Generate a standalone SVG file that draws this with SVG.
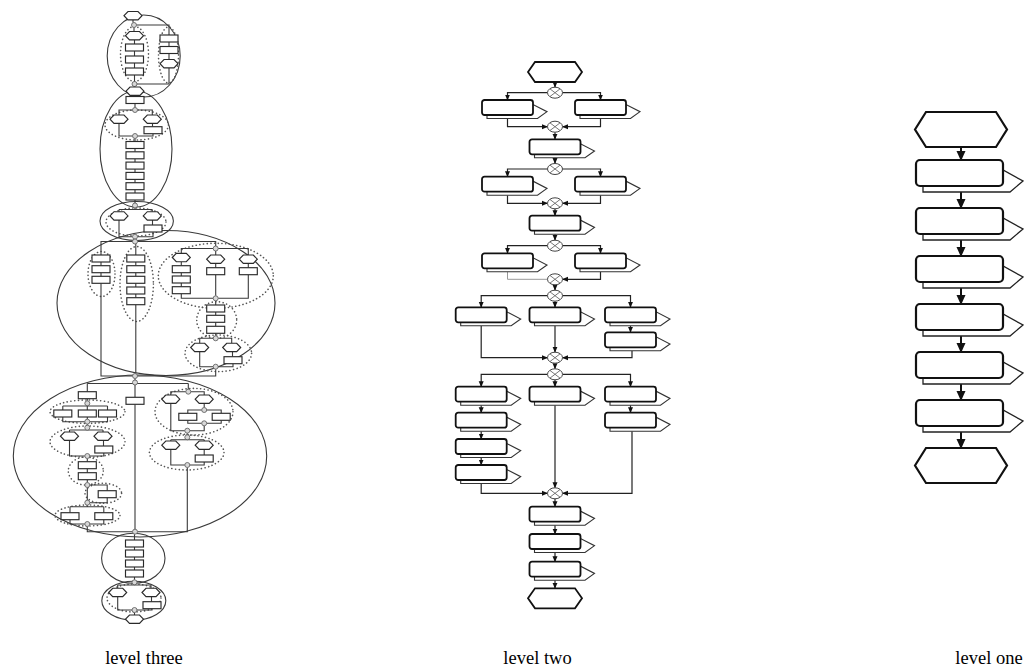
<svg xmlns="http://www.w3.org/2000/svg" width="1024" height="672" viewBox="0 0 1024 672">
<style>
.e3{fill:none;stroke:#3a3a3a;stroke-width:1.1}
.d3{fill:none;stroke:#555;stroke-width:1.6;stroke-dasharray:0.1 3.6;stroke-linecap:round}
.n3{fill:#fff;stroke:#2a2a2a;stroke-width:1.15}
.c3{fill:none;stroke:#3a3a3a;stroke-width:1.1}
.g3{fill:#d8d8d8;stroke:#555;stroke-width:0.8}
.n2{fill:#fff;stroke:#111;stroke-width:1.8}
.s2{fill:#fff;stroke:#333;stroke-width:1.1}
.c2{fill:none;stroke:#222;stroke-width:1.2}
.c2g{fill:none;stroke:#999;stroke-width:1}
.gw2{fill:#fff;stroke:#444;stroke-width:1}
.gx{fill:none;stroke:#666;stroke-width:0.9}
.n1{fill:#fff;stroke:#111;stroke-width:2.2}
.s1{fill:#fff;stroke:#222;stroke-width:1.3}
.c1{fill:none;stroke:#111;stroke-width:2}
.lbl{font-family:"Liberation Serif","Times New Roman",serif;font-size:18.5px;fill:#000}
</style>
<defs>
<rect id="b3" class="n3" x="-9" y="0" width="18" height="7"/>
<polygon id="h3" class="n3" points="-9,4.2 -5,0 5,0 9,4.2 5,8.4 -5,8.4"/>
<circle id="g3" class="g3" r="2.5"/>
<g id="b2"><polygon class="s2" points="5,15 5,18.5 55.5,18.5 65,11.7 51,4.5"/><rect class="n2" x="0" y="0" width="51" height="15" rx="2.5"/></g>
<g id="g2"><ellipse class="gw2" rx="7.5" ry="5.5"/><path class="gx" d="M-5,-3.8 L5,3.8 M-5,3.8 L5,-3.8"/></g>
<g id="b1"><polygon class="s1" points="7,26 7,32 94,32 107,21 87,10"/><rect class="n1" x="0" y="0" width="87" height="26" rx="4"/></g>
<marker id="m2" markerWidth="6" markerHeight="6" refX="5.5" refY="3" orient="auto" markerUnits="userSpaceOnUse"><path d="M0,0.5 L6,3 L0,5.5z" fill="#111"/></marker>
<marker id="m1" markerWidth="10" markerHeight="10" refX="9" refY="5" orient="auto" markerUnits="userSpaceOnUse"><path d="M0,0.5 L10,5 L0,9.5z" fill="#111"/></marker>
</defs>
<rect width="1024" height="672" fill="#fff"/>

<!-- LEVEL THREE -->
<g id="l3-outlines">
<ellipse class="e3" cx="143.7" cy="56" rx="36.5" ry="41"/>
<ellipse class="e3" cx="136" cy="149" rx="36" ry="58"/>
<ellipse class="e3" cx="136.7" cy="221" rx="36.7" ry="19.5"/>
<ellipse class="e3" cx="166" cy="303" rx="109" ry="72.5"/>
<ellipse class="e3" cx="140" cy="456" rx="126.7" ry="81"/>
<ellipse class="e3" cx="133.3" cy="558.3" rx="31.7" ry="25"/>
<ellipse class="e3" cx="133.8" cy="600.8" rx="32" ry="19.5"/>
<ellipse class="d3" cx="134.5" cy="54" rx="14" ry="27.5"/>
<ellipse class="d3" cx="168.5" cy="55" rx="10" ry="28"/>
<ellipse class="d3" cx="136.7" cy="125" rx="31.7" ry="15"/>
<ellipse class="d3" cx="136" cy="222" rx="30" ry="14"/>
<ellipse class="d3" cx="101.5" cy="274" rx="13.5" ry="22.5"/>
<ellipse class="d3" cx="136.7" cy="284" rx="16.7" ry="37.5"/>
<ellipse class="d3" cx="215.8" cy="275.8" rx="57.5" ry="32.5"/>
<ellipse class="d3" cx="216.7" cy="320" rx="20" ry="18.3"/>
<ellipse class="d3" cx="218.3" cy="353.3" rx="33.3" ry="18.3"/>
<ellipse class="d3" cx="87.5" cy="411.7" rx="37.5" ry="11.7"/>
<ellipse class="d3" cx="87.5" cy="441.7" rx="37.5" ry="15.7"/>
<ellipse class="d3" cx="85.8" cy="471" rx="17.5" ry="14"/>
<ellipse class="d3" cx="103.3" cy="493.3" rx="18.3" ry="10"/>
<ellipse class="d3" cx="87.5" cy="515.5" rx="32.5" ry="10.5"/>
<ellipse class="d3" cx="194" cy="411.7" rx="39" ry="23.3"/>
<ellipse class="d3" cx="186.7" cy="452.5" rx="37.3" ry="17.5"/>
<ellipse class="d3" cx="134" cy="598" rx="27" ry="14"/>
</g>

<g id="connectors">
<g id="l3-connectors">
<path class="c3" d="M133,20 V22.5 M136.5,25 H169 V35 M134,27.5 V31.5 M134.5,39.9 V44 M134.5,51 V56 M134.5,63 V68 M134.5,75 V81.5 M169,42 V46.5 M169,53.5 V59.5 M169,67.9 V84 H137 M134.5,86.5 V87 M135,95.4 V96.5"/>
<path class="c3" d="M135,103.5 V107.5 M132.5,110 H119 V115 M137.5,110 H152.3 V115 M152.5,123.4 V126.7 M119,123.4 V136 H132.5 M153,133.7 V136 H137.5 M135,138.5 V141.5 M135,148.5 V151.8 M135,158.8 V162.1 M135,169.1 V172.4 M135,179.4 V182.7 M135,189.7 V193 M135,200 V203"/>
<path class="c3" d="M135,208 V209.5 M119,209.5 H152.3 M119,209.5 V211.7 M152.3,209.5 V211.7 M152.5,220.1 V225 M119,220.1 V236.7 H132.5 M153,232 V236.7 H137.5 M135,239.2 V239"/>
<path class="c3" d="M132.5,241.5 H101 V255 M137.5,241.5 H215.7 V246 M135.8,244 V255 M101,262 V265.7 M101,272.7 V276.3 M135.8,262 V265.7 M135.8,272.7 V276.3 M135.8,283.3 V287 M135.8,294 V297.7 M213.2,248.5 H181.3 V253.3 M218.2,248.5 H248.3 V255 M215.7,251 V255 M181.3,261.7 V265.7 M181.3,272.7 V276 M181.3,283 V286.7 M215.7,263.4 V267.7 M248.3,263.4 V267.7 M181.3,293.7 V298.3 H213.2 M215.7,274.7 V295.8 M248.3,274.7 V298.3 H218.2 M215.7,300.8 V305 M215.7,312 V315.3 M215.7,322.3 V326.3 M215.7,333.3 V335.8 M213.2,338.3 H199.7 V343.3 M218.2,338.3 H231.7 V343.3 M232.5,351.7 V356.7 M199.7,351.7 V366.7 H213.2 M233,363.7 V366.7 H218.2 M215.7,369.2 V376 H137.5 M101,283.3 V376 H132.5 M135.8,304.7 V373.5 M135,378.5 V380"/>
<path class="c3" d="M135,385 V397.3 M87.3,383.5 H188.3 M87.3,383.5 V391.7 M87.3,398.7 V400.8 M87.3,405.8 V410 M62.8,406 H107.5 M62.8,406 V410 M107.5,406 V410 M62.8,417 V421.7 H84.8 M87.3,417 V419.2 M107.5,417 V421.7 H89.8 M87.3,424.2 V425.2 M69.5,430 H103 M69.5,430 V432 M103,430 V432 M103.5,440.4 V446 M69.5,440.4 V456 H84.8 M103.8,453 V456 H89.8 M87.3,458.5 V461.7 M87.3,468.7 V472.7 M87.3,479.7 V482.5 M89.8,485 H107.2 V490.7 M87.3,487.5 V500.2 M107.2,497.7 V502.7 H89.8 M87.3,505.2 V506.7 M70,506.7 H103.8 M70,506.7 V512.7 M103.8,506.7 V512.7 M70,519.7 V524 H84.8 M103.8,519.7 V524 H89.8 M87.3,526.5 V531.7 H132.5 M135,404.3 V529.2"/>
<path class="c3" d="M188.3,383.5 V389.2 M185.8,391.7 H170.8 V395 M190.8,391.7 H204.2 V395 M204.2,403.4 V407.5 M201.7,410 H187.8 V413.3 M206.7,410 H221.2 V413.3 M187.8,420.3 V423.3 H201.7 M221.2,420.3 V423.3 H206.7 M204.2,425.8 V430.7 H189.8 M170.8,403.4 V430.7 H184.8 M187.3,433.2 V434.8 M170.8,439.8 H204.2 M170.8,439.8 V441 M204.2,439.8 V441 M204.2,449.4 V455 M170.8,449.4 V465 H184.8 M204.2,462 V465 H189.8 M187.3,467.5 V531.7 H137.5"/>
<path class="c3" d="M134.5,534.2 V540 M134.5,547 V550 M134.5,557 V560 M134.5,567 V570 M134.5,577 V579.8 M134.5,584.8 V585 M117.7,585 H151 M117.7,585 V588.3 M151,585 V588.3 M151.5,596.7 V601.7 M117.7,596.7 V610 H132 M152,608.3 V610 H137 M134.5,612.5 V615"/>
</g>

<g id="l2-connectors">
<path class="c2" marker-end="url(#m2)" d="M555,82 V87.2"/>
<path class="c2" marker-end="url(#m2)" d="M547.5,92.7 H507.5 V100"/>
<path class="c2" marker-end="url(#m2)" d="M562.5,92.7 H600.5 V100"/>
<path class="c2" marker-end="url(#m2)" d="M507.5,118.5 V126.7 H547.5"/>
<path class="c2" marker-end="url(#m2)" d="M600.5,118.5 V126.7 H562.5"/>
<path class="c2" marker-end="url(#m2)" d="M555,132.2 V139.3"/>
<path class="c2" marker-end="url(#m2)" d="M555,157.8 V163.5"/>
<path class="c2" marker-end="url(#m2)" d="M547.5,169 H507.5 V176.7"/>
<path class="c2" marker-end="url(#m2)" d="M562.5,169 H600.5 V176.7"/>
<path class="c2" marker-end="url(#m2)" d="M507.5,195.2 V203.3 H547.5"/>
<path class="c2" marker-end="url(#m2)" d="M600.5,195.2 V203.3 H562.5"/>
<path class="c2" marker-end="url(#m2)" d="M555,208.8 V215.7"/>
<path class="c2" marker-end="url(#m2)" d="M555,234.2 V240.2"/>
<path class="c2" marker-end="url(#m2)" d="M547.5,245.7 H507.5 V253.3"/>
<path class="c2" marker-end="url(#m2)" d="M562.5,245.7 H600.5 V253.3"/>
<path class="c2g" d="M507.5,271.8 V279.3 H547.5"/>
<path class="c2" marker-end="url(#m2)" d="M600.5,271.8 V279.3 H562.5"/>
<path class="c2" marker-end="url(#m2)" d="M555,284.8 V290.2"/>
<path class="c2" marker-end="url(#m2)" d="M547.5,295.7 H481.2 V307.3"/>
<path class="c2" marker-end="url(#m2)" d="M555,301.2 V307.3"/>
<path class="c2" marker-end="url(#m2)" d="M562.5,295.7 H630.5 V307.3"/>
<path class="c2" marker-end="url(#m2)" d="M630.5,325.8 V332.3"/>
<path class="c2" marker-end="url(#m2)" d="M481.2,325.8 V357.7 H547.5"/>
<path class="c2" marker-end="url(#m2)" d="M555,325.8 V352.2"/>
<path class="c2" marker-end="url(#m2)" d="M632,350.8 V357.7 H562.5"/>
<path class="c2" marker-end="url(#m2)" d="M555,363.2 V368.8"/>
<path class="c2" marker-end="url(#m2)" d="M547.5,374.3 H481.2 V386.7"/>
<path class="c2" marker-end="url(#m2)" d="M555,379.8 V386.7"/>
<path class="c2" marker-end="url(#m2)" d="M562.5,374.3 H630.5 V386.7"/>
<path class="c2" marker-end="url(#m2)" d="M481.2,405.2 V412.7"/>
<path class="c2" marker-end="url(#m2)" d="M481.2,431.2 V439"/>
<path class="c2" marker-end="url(#m2)" d="M481.2,457.5 V465"/>
<path class="c2" marker-end="url(#m2)" d="M630.5,405.2 V412.7"/>
<path class="c2" marker-end="url(#m2)" d="M481.2,483.5 V493.3 H547.5"/>
<path class="c2" marker-end="url(#m2)" d="M555,405.2 V487.8"/>
<path class="c2" marker-end="url(#m2)" d="M632,431.2 V493.3 H562.5"/>
<path class="c2" marker-end="url(#m2)" d="M555,498.8 V506.7"/>
<path class="c2" marker-end="url(#m2)" d="M555,525.2 V534"/>
<path class="c2" marker-end="url(#m2)" d="M555,552.5 V561.7"/>
<path class="c2" marker-end="url(#m2)" d="M555,580.2 V588.3"/>
</g>

<g id="l1-connectors">
<path class="c1" marker-end="url(#m1)" d="M961,147 V160"/>
<path class="c1" marker-end="url(#m1)" d="M961,192 V208"/>
<path class="c1" marker-end="url(#m1)" d="M961,240 V256"/>
<path class="c1" marker-end="url(#m1)" d="M961,288 V304"/>
<path class="c1" marker-end="url(#m1)" d="M961,336 V352"/>
<path class="c1" marker-end="url(#m1)" d="M961,384 V400"/>
<path class="c1" marker-end="url(#m1)" d="M961,432 V448"/>
</g>
</g>

<g id="l3-sub1">
<use href="#h3" x="133" y="11.5"/>
<use href="#g3" x="134" y="25"/>
<use href="#h3" x="134.5" y="31.5"/>
<use href="#b3" x="134.5" y="44"/>
<use href="#b3" x="134.5" y="56"/>
<use href="#b3" x="134.5" y="68"/>
<use href="#b3" x="169" y="35"/>
<use href="#b3" x="169" y="46.5"/>
<use href="#h3" x="169" y="59.5"/>
<use href="#g3" x="134.5" y="84"/>
<use href="#h3" x="135" y="87"/>
</g>
<g id="l3-sub2">
<use href="#b3" x="135" y="96.5"/>
<use href="#g3" x="135" y="110"/>
<use href="#h3" x="119" y="115"/>
<use href="#h3" x="152.3" y="115"/>
<use href="#b3" x="153" y="126.7"/>
<use href="#g3" x="135" y="136"/>
<use href="#b3" x="135" y="141.5"/>
<use href="#b3" x="135" y="151.8"/>
<use href="#b3" x="135" y="162.1"/>
<use href="#b3" x="135" y="172.4"/>
<use href="#b3" x="135" y="182.7"/>
<use href="#b3" x="135" y="193"/>
<use href="#g3" x="135" y="205.5"/>
</g>
<g id="l3-sub3">
<use href="#h3" x="119" y="211.7"/>
<use href="#h3" x="152.3" y="211.7"/>
<use href="#b3" x="153" y="225"/>
<use href="#g3" x="135" y="236.7"/>
</g>
<g id="l3-sub4">
<use href="#g3" x="135" y="241.5"/>
<use href="#b3" x="101" y="255"/>
<use href="#b3" x="101" y="265.7"/>
<use href="#b3" x="101" y="276.3"/>
<use href="#b3" x="135.8" y="255"/>
<use href="#b3" x="135.8" y="265.7"/>
<use href="#b3" x="135.8" y="276.3"/>
<use href="#b3" x="135.8" y="287"/>
<use href="#b3" x="135.8" y="297.7"/>
<use href="#g3" x="215.7" y="248.5"/>
<use href="#h3" x="181.3" y="253.3"/>
<use href="#b3" x="181.3" y="265.7"/>
<use href="#b3" x="181.3" y="276"/>
<use href="#b3" x="181.3" y="286.7"/>
<use href="#h3" x="215.7" y="255"/>
<use href="#b3" x="215.7" y="267.7"/>
<use href="#h3" x="248.3" y="255"/>
<use href="#b3" x="248.3" y="267.7"/>
<use href="#g3" x="215.7" y="298.3"/>
<use href="#b3" x="215.7" y="305"/>
<use href="#b3" x="215.7" y="315.3"/>
<use href="#b3" x="215.7" y="326.3"/>
<use href="#g3" x="215.7" y="338.3"/>
<use href="#h3" x="199.7" y="343.3"/>
<use href="#h3" x="231.7" y="343.3"/>
<use href="#b3" x="233" y="356.7"/>
<use href="#g3" x="215.7" y="366.7"/>
<use href="#g3" x="135" y="376"/>
</g>
<g id="l3-sub5">
<use href="#g3" x="135" y="382.5"/>
<use href="#b3" x="135" y="397.3"/>
<use href="#b3" x="87.3" y="391.7"/>
<use href="#g3" x="87.3" y="403.3"/>
<use href="#b3" x="62.8" y="410"/>
<use href="#b3" x="87.3" y="410"/>
<use href="#b3" x="107.5" y="410"/>
<use href="#g3" x="87.3" y="421.7"/>
<use href="#g3" x="87.3" y="427.7"/>
<use href="#h3" x="69.5" y="432"/>
<use href="#h3" x="103" y="432"/>
<use href="#b3" x="103.8" y="446"/>
<use href="#g3" x="87.3" y="456"/>
<use href="#b3" x="87.3" y="461.7"/>
<use href="#b3" x="87.3" y="472.7"/>
<use href="#g3" x="87.3" y="485"/>
<use href="#b3" x="107.2" y="490.7"/>
<use href="#g3" x="87.3" y="502.7"/>
<use href="#b3" x="70" y="512.7"/>
<use href="#b3" x="103.8" y="512.7"/>
<use href="#g3" x="87.3" y="524"/>
<use href="#g3" x="188.3" y="391.7"/>
<use href="#h3" x="170.8" y="395"/>
<use href="#h3" x="204.2" y="395"/>
<use href="#g3" x="204.2" y="410"/>
<use href="#b3" x="187.8" y="413.3"/>
<use href="#b3" x="221.2" y="413.3"/>
<use href="#g3" x="204.2" y="423.3"/>
<use href="#g3" x="187.3" y="430.7"/>
<use href="#g3" x="187.3" y="437.3"/>
<use href="#h3" x="170.8" y="441"/>
<use href="#h3" x="204.2" y="441"/>
<use href="#b3" x="204.2" y="455"/>
<use href="#g3" x="187.3" y="465"/>
<use href="#g3" x="135" y="531.7"/>
</g>
<g id="l3-sub6">
<use href="#b3" x="134.5" y="540"/>
<use href="#b3" x="134.5" y="550"/>
<use href="#b3" x="134.5" y="560"/>
<use href="#b3" x="134.5" y="570"/>
<use href="#g3" x="134.5" y="582.3"/>
</g>
<g id="l3-sub7">
<use href="#h3" x="117.7" y="588.3"/>
<use href="#h3" x="151" y="588.3"/>
<use href="#b3" x="152" y="601.7"/>
<use href="#g3" x="134.5" y="610"/>
<use href="#h3" x="134.5" y="615"/>
</g>

<!-- LEVEL TWO -->
<g id="l2-start"><polygon class="n2" points="528,72 535,62 575,62 582,72 575,82 535,82"/></g>
<g id="l2-g1"><use href="#g2" x="555" y="92.7"/></g>
<g id="l2-a1"><use href="#b2" x="482" y="100"/></g>
<g id="l2-a2"><use href="#b2" x="575" y="100"/></g>
<g id="l2-g2"><use href="#g2" x="555" y="126.7"/></g>
<g id="l2-b"><use href="#b2" x="529.5" y="139.3"/></g>
<g id="l2-g3"><use href="#g2" x="555" y="169"/></g>
<g id="l2-c1"><use href="#b2" x="482" y="176.7"/></g>
<g id="l2-c2"><use href="#b2" x="575" y="176.7"/></g>
<g id="l2-g4"><use href="#g2" x="555" y="203.3"/></g>
<g id="l2-d"><use href="#b2" x="529.5" y="215.7"/></g>
<g id="l2-g5"><use href="#g2" x="555" y="245.7"/></g>
<g id="l2-e1"><use href="#b2" x="482" y="253.3"/></g>
<g id="l2-e2"><use href="#b2" x="575" y="253.3"/></g>
<g id="l2-g6"><use href="#g2" x="555" y="279.3"/></g>
<g id="l2-g7"><use href="#g2" x="555" y="295.7"/></g>
<g id="l2-f1"><use href="#b2" x="455.7" y="307.3"/></g>
<g id="l2-f2"><use href="#b2" x="529.5" y="307.3"/></g>
<g id="l2-f3"><use href="#b2" x="605" y="307.3"/></g>
<g id="l2-f4"><use href="#b2" x="605" y="332.3"/></g>
<g id="l2-g8"><use href="#g2" x="555" y="357.7"/></g>
<g id="l2-g9"><use href="#g2" x="555" y="374.3"/></g>
<g id="l2-h1"><use href="#b2" x="455.7" y="386.7"/></g>
<g id="l2-h2"><use href="#b2" x="455.7" y="412.7"/></g>
<g id="l2-h3"><use href="#b2" x="455.7" y="439"/></g>
<g id="l2-h4"><use href="#b2" x="455.7" y="465"/></g>
<g id="l2-h5"><use href="#b2" x="529.5" y="386.7"/></g>
<g id="l2-h6"><use href="#b2" x="605" y="386.7"/></g>
<g id="l2-h7"><use href="#b2" x="605" y="412.7"/></g>
<g id="l2-g10"><use href="#g2" x="555" y="493.3"/></g>
<g id="l2-i1"><use href="#b2" x="529.5" y="506.7"/></g>
<g id="l2-i2"><use href="#b2" x="529.5" y="534"/></g>
<g id="l2-i3"><use href="#b2" x="529.5" y="561.7"/></g>
<g id="l2-end"><polygon class="n2" points="528,598.3 535,588.3 575,588.3 582,598.3 575,608.3 535,608.3"/></g>

<!-- LEVEL ONE -->
<g id="l1-start"><polygon class="n1" points="915,129.5 926,112 996,112 1007,129.5 996,147 926,147"/></g>
<g id="l1-p1"><use href="#b1" x="916" y="160"/></g>
<g id="l1-p2"><use href="#b1" x="916" y="208"/></g>
<g id="l1-p3"><use href="#b1" x="916" y="256"/></g>
<g id="l1-p4"><use href="#b1" x="916" y="304"/></g>
<g id="l1-p5"><use href="#b1" x="916" y="352"/></g>
<g id="l1-p6"><use href="#b1" x="916" y="400"/></g>
<g id="l1-end"><polygon class="n1" points="915,465.5 926,448 996,448 1007,465.5 996,483 926,483"/></g>

<g id="labels">
<text class="lbl" x="144" y="664" text-anchor="middle">level three</text>
<text class="lbl" x="537.5" y="664" text-anchor="middle">level two</text>
<text class="lbl" x="989" y="664" text-anchor="middle">level one</text>
</g>
</svg>
